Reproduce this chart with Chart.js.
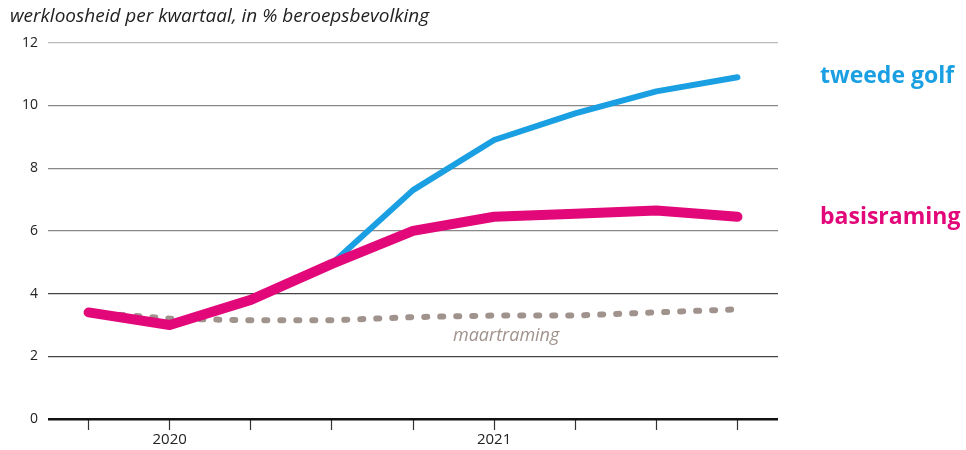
<!DOCTYPE html>
<html>
<head>
<meta charset="utf-8">
<script src="https://cdn.jsdelivr.net/npm/chart.js@4"></script>
<style>
  html, body { margin: 0; padding: 0; background: #fff; }
  #wrap { width: 966px; height: 450px; }
</style>
</head>
<body>
<div id="wrap"><canvas id="grafiek"></canvas></div>
<script>
// kwartalen, alleen 2020 en 2021 krijgen een label
var kwartalen = ['', '2020', '', '', '', '2021', '', '', ''];
var basisraming = [3.4, 3.0, 3.8, 4.95, 6.0, 6.45, 6.55, 6.65, 6.45];
var tweedeGolf = [null, null, null, 4.95, 7.3, 8.9, 9.75, 10.45, 10.9];
var maartraming = [3.4, 3.2, 3.15, 3.15, 3.25, 3.3, 3.3, 3.4, 3.5];
var yTicks = [0, 2, 4, 6, 8, 10, 12];

var kleurBlauw = '#1aa0e2';
var kleurRoze = '#e2087a';
var kleurGrijs = '#a0928c';

// labels rechts van de lijnen en bij de maartraming
var lijnLabels = {
    id: 'lijnLabels',
    afterDatasetsDraw: function (chart) {
        var ctx = chart.ctx;
        var x = chart.scales.x;
        var y = chart.scales.y;
        ctx.save();
        ctx.textBaseline = 'middle';
        ctx.textAlign = 'left';
        ctx.font = 'bold 23px "Open Sans"';
        ctx.fillStyle = kleurBlauw;
        ctx.fillText('tweede golf', 820, y.getPixelForValue(tweedeGolf[8]) - 1);
        ctx.fillStyle = kleurRoze;
        ctx.fillText('basisraming', 820, y.getPixelForValue(basisraming[8]) + 1);
        ctx.font = 'italic 18px "Open Sans"';
        ctx.fillStyle = kleurGrijs;
        ctx.fillText('maartraming', x.getPixelForValue(4) + 40, y.getPixelForValue(2.65));
        ctx.restore();
    }
};

var ctx = document.getElementById('grafiek').getContext('2d');
new Chart(ctx, {
    type: 'line',
    data: {
        labels: kwartalen,
        datasets: [{
            label: 'basisraming',
            data: basisraming,
            borderColor: kleurRoze,
            borderWidth: 10,
            borderCapStyle: 'round',
            borderJoinStyle: 'round',
            pointRadius: 0,
            tension: 0
        }, {
            label: 'tweede golf',
            data: tweedeGolf,
            borderColor: kleurBlauw,
            borderWidth: 6,
            borderCapStyle: 'round',
            borderJoinStyle: 'round',
            pointRadius: 0,
            tension: 0
        }, {
            label: 'maartraming',
            data: maartraming,
            borderColor: kleurGrijs,
            borderWidth: 6,
            borderDash: [3, 13],
            borderCapStyle: 'round',
            pointRadius: 0,
            tension: 0
        }]
    },
    options: {
        responsive: true,
        maintainAspectRatio: false,
        animation: false,
        layout: {
            padding: { left: 10, right: 188, top: 0, bottom: 0 }
        },
        plugins: {
            legend: { display: false },
            tooltip: { enabled: false },
            title: {
                display: true,
                text: 'werkloosheid per kwartaal, in % beroepsbevolking',
                align: 'start',
                color: '#222',
                font: { family: 'Open Sans', size: 19, style: 'italic', weight: 'normal' },
                padding: { top: 5, bottom: 15 }
            }
        },
        scales: {
            x: {
                offset: true,
                grid: {
                    offset: false,
                    drawOnChartArea: false,
                    drawTicks: true,
                    tickLength: 11,
                    tickColor: '#333',
                    tickWidth: 1.2
                },
                border: { display: false },
                ticks: {
                    color: '#222',
                    maxRotation: 0,
                    autoSkip: false,
                    padding: 1,
                    font: { family: 'Open Sans', size: 15 }
                },
                afterFit: function (scale) { scale.height = 31; }
            },
            y: {
                min: 0,
                max: 12,
                afterBuildTicks: function (scale) {
                    scale.ticks = yTicks.map(function (v) { return { value: v }; });
                },
                grid: {
                    drawTicks: false,
                    color: function (c) {
                        var v = c.tick.value;
                        if (v === 0) return '#111';
                        if (v === 12) return '#bbb';
                        if (v <= 4) return '#444';
                        return '#888';
                    },
                    lineWidth: function (c) { return c.tick.value === 0 ? 2.5 : 1.2; }
                },
                border: { display: false },
                ticks: {
                    color: '#222',
                    padding: 10,
                    font: { family: 'Open Sans', size: 14 }
                },
                afterFit: function (scale) { scale.width = 38; }
            }
        }
    },
    plugins: [lijnLabels]
});
</script>
</body>
</html>
